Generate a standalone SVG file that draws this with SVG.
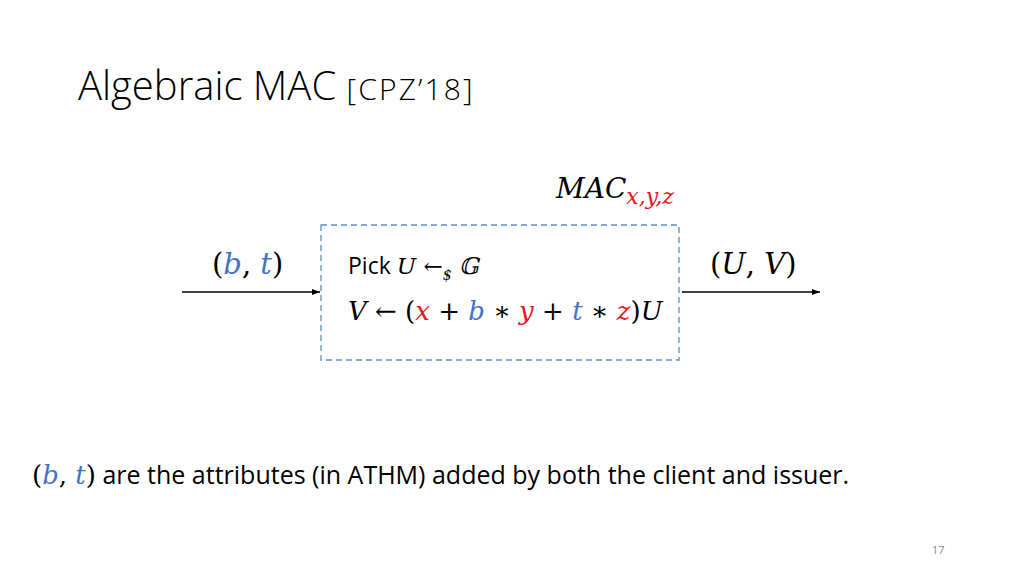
<svg xmlns="http://www.w3.org/2000/svg" width="1024" height="576" viewBox="0 0 1024 576">
<style>
.t{font-family:"Open Sans","Liberation Sans",sans-serif;fill:#000}
.m{font-family:"DejaVu Serif","Liberation Serif",serif;font-style:italic;fill:#000}
.r{fill:#e8141b}.b{fill:#4472c4}
.c{stroke:#000;stroke-width:1.5;fill:none}
</style>
<defs><marker id="a" markerWidth="8" markerHeight="6" refX="8" refY="3" orient="auto" markerUnits="userSpaceOnUse"><path d="M0,0L8,3L0,6z"/></marker></defs>
<rect width="1024" height="576" fill="#fff"/>
<text x="78" y="100" class="t" font-size="40" font-weight="300">Algebraic MAC <tspan font-size="30" textLength="126">[CPZ’18]</tspan></text>
<g id="box">
<rect x="321" y="225" width="358" height="135" fill="none" stroke="#5b8fc4" stroke-width="1.3" stroke-dasharray="6,4"/>
<text x="348" y="274" font-size="23"><tspan class="t">Pick </tspan><tspan class="m">U</tspan><tspan class="m" font-style="normal"> ←</tspan><tspan class="m" font-style="normal" font-size="14" dy="6">$</tspan><tspan class="m" font-style="normal" dy="-6">  𝔾</tspan></text>
<text x="348" y="320" font-size="26" class="m">V <tspan font-style="normal">← (</tspan><tspan class="r">x</tspan><tspan font-style="normal"> + </tspan><tspan class="b">b</tspan><tspan font-style="normal"> ∗ </tspan><tspan class="r">y</tspan><tspan font-style="normal"> + </tspan><tspan class="b">t</tspan><tspan font-style="normal"> ∗ </tspan><tspan class="r">z</tspan><tspan font-style="normal">)</tspan>U</text>
</g>
<g id="labels">
<text x="556" y="198" font-size="28" class="m">MAC<tspan class="r" font-size="22" dy="6">x,y,z</tspan></text>
<text x="212" y="274" font-size="29" class="m"><tspan font-style="normal">(</tspan><tspan class="b">b</tspan><tspan font-style="normal">, </tspan><tspan class="b">t</tspan><tspan font-style="normal">)</tspan></text>
<text x="710" y="274" font-size="29" class="m"><tspan font-style="normal">(</tspan>U<tspan font-style="normal">, </tspan>V<tspan font-style="normal">)</tspan></text>
</g>
<g id="connectors">
<line x1="182" y1="292" x2="320" y2="292" class="c" marker-end="url(#a)"/>
<line x1="682" y1="292" x2="820" y2="292" class="c" marker-end="url(#a)"/>
</g>
<text x="32" y="484" font-size="26"><tspan class="m"><tspan font-style="normal">(</tspan><tspan class="b">b</tspan><tspan font-style="normal">, </tspan><tspan class="b">t</tspan><tspan font-style="normal">)</tspan></tspan><tspan class="t" font-size="25"> are the attributes (in ATHM) added by both the client and issuer.</tspan></text>
<text x="932" y="554" class="t" font-size="11" style="fill:#888">17</text>
</svg>
